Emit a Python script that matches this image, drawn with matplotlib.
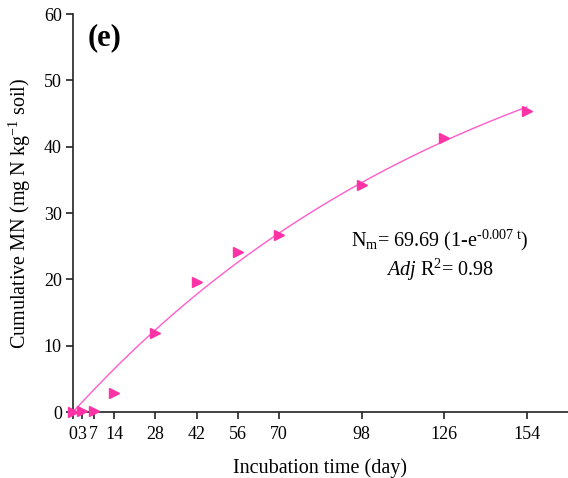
import numpy as np
import matplotlib.pyplot as plt

plt.rcParams['font.family'] = 'Liberation Serif'
plt.rcParams['mathtext.fontset'] = 'custom'
plt.rcParams['mathtext.rm'] = 'Liberation Serif'
plt.rcParams['mathtext.it'] = 'Liberation Serif:italic'

days = [0, 3, 7, 14, 28, 42, 56, 70, 98, 126, 154]
cum_mn = [0.0, 0.1, 0.1, 2.9, 11.9, 19.6, 24.1, 26.7, 34.2, 41.3, 45.4]

# fitted first-order model shown on the chart
n0 = 69.69
k = 0.007

fig = plt.figure(figsize=(5.68, 4.78), dpi=100)
ax = fig.add_axes([0.1285, 0.138, 0.8715, 0.8327])

t = np.linspace(0, 154, 200)
ax.plot(t, n0 * (1 - np.exp(-k * t)), color='#ff5ccd', lw=1.0, zorder=2)
ax.plot(days, cum_mn, linestyle='none', marker='>', color='#ff33a6',
        markersize=7.5, zorder=3, clip_on=False)

ax.set_xlim(0, 168)
ax.set_ylim(0, 60)
ax.set_xticks(days)
ax.set_yticks(range(0, 61, 10))
ax.spines['top'].set_visible(False)
ax.spines['right'].set_visible(False)
for s in ['left', 'bottom']:
    ax.spines[s].set_linewidth(1.2)
    ax.spines[s].set_color('#222222')
ax.tick_params(direction='out', length=5, width=1.2, labelsize=13, color='#222222')
ax.tick_params(axis='x', pad=5)
ax.tick_params(axis='y', pad=3)

ax.set_xlabel('Incubation time (day)', fontsize=14.5, labelpad=11)
ax.set_ylabel('Cumulative MN (mg N kg$^{-1}$ soil)', fontsize=14.5, labelpad=8)

ax.text(5, 56.4, '(e)', fontsize=22, fontweight='bold', va='center')
ax.text(124.5, 25.9, 'N$_\\mathrm{m}$= 69.69 (1-e$^{\u2010\\mathrm{0.007\\ t}}$)',
        fontsize=14.5, ha='center', va='center')
ax.text(124.5, 21.4, r'$\mathit{Adj}$ R$^2$= 0.98',
        fontsize=14.5, ha='center', va='center')

fig.savefig('out.png', dpi=100)
